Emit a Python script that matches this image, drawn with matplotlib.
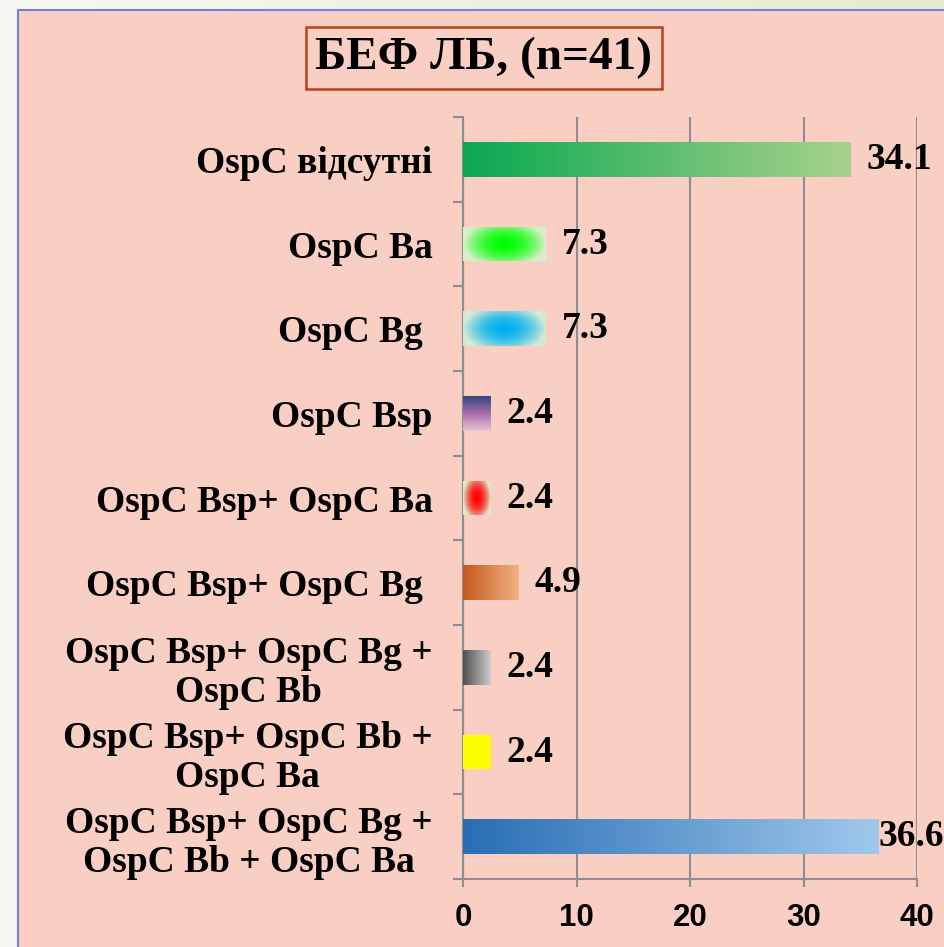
import numpy as np
import matplotlib
matplotlib.use("Agg")
import matplotlib.pyplot as plt
from matplotlib.patches import Rectangle

# Дані діаграми
categories = [
    "OspC відсутні",
    "OspC Ba",
    "OspC Bg ",
    "OspC Bsp",
    "OspC Bsp+ OspC Ba",
    "OspC Bsp+ OspC Bg ",
    "OspC Bsp+ OspC Bg +\nOspC Bb",
    "OspC Bsp+ OspC Bb +\nOspC Ba",
    "OspC Bsp+ OspC Bg +\nOspC Bb + OspC Ba",
]
values = [34.1, 7.3, 7.3, 2.4, 2.4, 4.9, 2.4, 2.4, 36.6]
value_labels = ["34.1", "7.3", "7.3", "2.4", "2.4", "4.9", "2.4", "2.4", "36.6"]
x_ticks = [0, 10, 20, 30, 40]
title = "БЕФ ЛБ, (n=41)"

# заливки стовпців: (тип, кольори)
fills = [
    ("h", [(10, 168, 80), (168, 210, 140)]),
    ("r", [(0, 255, 0), (215, 240, 200)]),
    ("r", [(0, 176, 240), (210, 234, 212)]),
    ("v", [(50, 68, 128), (170, 110, 170), (232, 195, 212)]),
    ("r", [(255, 0, 0), (222, 232, 202)]),
    ("h", [(196, 90, 30), (242, 178, 132)]),
    ("h", [(80, 80, 80), (205, 205, 205)]),
    ("s", [(255, 255, 0)]),
    ("h", [(40, 110, 180), (160, 200, 235)]),
]

PINK = "#f9cec3"
GRID = "#8e8e8e"


def gradient(kind, cols, n=100):
    c = np.array(cols, dtype=float) / 255
    if kind == "s":
        return np.tile(c[0], (2, 2, 1))
    if kind == "h":
        t = np.linspace(0, 1, n)[None, :, None]
        return np.repeat(c[0] + (c[1] - c[0]) * t, 2, axis=0)
    if kind == "v":
        # рядок 0 - нижній край стовпця
        t = np.linspace(1, 0, n)
        stops = np.linspace(0, 1, len(c))
        img = np.stack([np.interp(t, stops, c[:, k]) for k in range(3)], axis=1)
        return np.repeat(img[:, None, :], 2, axis=1)
    # радіальна
    yy, xx = np.mgrid[-1:1:n * 1j, -1:1:n * 1j]
    r = np.clip(np.sqrt(xx ** 2 + (0.75 * yy) ** 2), 0, 1) ** 1.9
    return c[0] + (c[1] - c[0]) * r[..., None]


fig = plt.figure(figsize=(9.44, 9.47), dpi=100)

# фон слайду
bg = fig.add_axes([0, 0, 1, 1], zorder=-2)
gy, gx = np.mgrid[0:1:50j, 0:1:50j]
base = np.array([246, 249, 242]) / 255
tint = np.array([226, 238, 205]) / 255
f = (gx * (1 - gy))[..., None]
bg.imshow(base + (tint - base) * f, extent=(0, 1, 0, 1), aspect="auto", origin="upper")
bg.add_patch(Rectangle((18 / 944, -0.01), 1, 1 - 10 / 947 + 0.01,
                       facecolor=PINK, edgecolor="#7c7ce6", lw=1.5))
bg.set_xlim(0, 1)
bg.set_ylim(0, 1)
bg.axis("off")

ax = fig.add_axes([463 / 944, 1 - 879 / 947, (917 - 463) / 944, (879 - 117) / 947])
ax.set_facecolor("none")

n = len(categories)
ypos = np.arange(n)[::-1]
bars = ax.barh(ypos, values, height=0.41, facecolor="none", edgecolor="none", zorder=3)

for bar, (kind, cols) in zip(bars, fills):
    x0, y0 = bar.get_x(), bar.get_y()
    w, h = bar.get_width(), bar.get_height()
    im = ax.imshow(gradient(kind, cols), extent=(x0, x0 + w, y0, y0 + h),
                   origin="lower", aspect="auto", interpolation="bilinear", zorder=3)
    im.set_clip_path(bar)

# підписи значень
for i, (bar, lab) in enumerate(zip(bars, value_labels)):
    off = 0 if i == n - 1 else 16
    ax.annotate(lab, (bar.get_width(), bar.get_y() + bar.get_height() / 2),
                xytext=(off * 0.72, 0), textcoords="offset points",
                ha="left", va="center", fontsize=27, fontweight="bold",
                family="Liberation Serif", annotation_clip=False, zorder=5)

ax.set_xlim(0, 40)
ax.set_ylim(-0.5, n - 0.5)
ax.set_xticks(x_ticks)
ax.set_xticklabels([str(t) for t in x_ticks], fontsize=22.5, fontweight="bold",
                   family=["Liberation Sans Narrow", "Liberation Sans"])
ax.set_yticks(ypos)
ax.set_yticklabels(categories, fontsize=27, fontweight="bold", family="Liberation Serif")
for t in ax.get_yticklabels():
    t.set_multialignment("center")
    t.set_linespacing(1.15)
ax.set_yticks(np.arange(-0.5, n, 1), minor=True)
ax.tick_params(axis="y", which="major", length=0, pad=22)
ax.tick_params(axis="y", which="minor", length=7.5, width=1.5, color=GRID)
ax.tick_params(axis="x", length=6, width=1.5, color=GRID, pad=11)

ax.grid(axis="x", color=GRID, lw=1.5, zorder=1)
ax.set_axisbelow(True)
for s in ["top", "right"]:
    ax.spines[s].set_visible(False)
for s in ["left", "bottom"]:
    ax.spines[s].set_color(GRID)
    ax.spines[s].set_linewidth(1.5)

fig.text(484 / 944, 1 - 58 / 947, title, ha="center", va="center",
         fontsize=34, fontweight="bold", family="Liberation Serif",
         bbox=dict(boxstyle="square,pad=0.2", facecolor=PINK,
                   edgecolor="#b8401e", lw=1.8))

fig.savefig("out.png", dpi=100)
